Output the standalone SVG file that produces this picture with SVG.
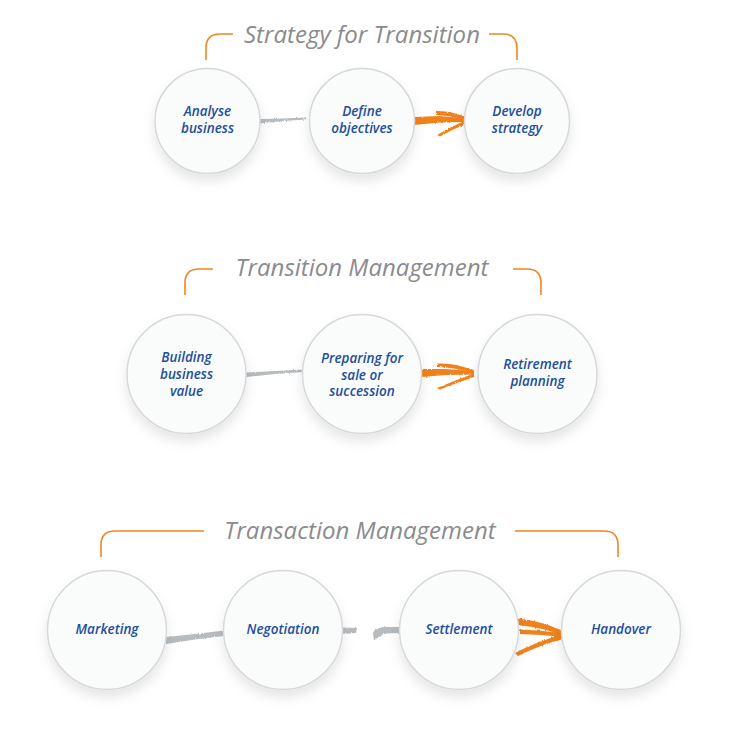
<svg xmlns="http://www.w3.org/2000/svg" width="736" height="733" viewBox="0 0 736 733">
  <defs>
    <filter id="shadow" x="-30%" y="-30%" width="160%" height="170%">
      <feDropShadow dx="0" dy="7" stdDeviation="6" flood-color="#000" flood-opacity="0.10"/>
    </filter>
    <filter id="rough" x="-10%" y="-50%" width="120%" height="200%">
      <feTurbulence type="fractalNoise" baseFrequency="0.9 0.25" numOctaves="2" seed="3" result="n"/>
      <feDisplacementMap in="SourceGraphic" in2="n" scale="2.5" xChannelSelector="R" yChannelSelector="G"/>
    </filter>
    <style>
      .node circle { fill: #fafbfb; stroke: #d6d8d9; stroke-width: 1.5; filter: url(#shadow); }
      .label { font-family: "Open Sans", "Noto Sans", sans-serif; font-style: italic; font-weight: 600; font-size: 13.5px; fill: #1d4f9c; text-anchor: middle; }
      .title { font-family: "Open Sans", "Noto Sans", sans-serif; font-style: italic; font-weight: 400; font-size: 24px; fill: #8a8b8d; text-anchor: middle; }
      .bracket { fill: none; stroke: #f0861f; stroke-width: 1.6; }
      .gray { fill: #b6bbbf; filter: url(#rough); }
      .orange { fill: #f0821e; filter: url(#rough); }
    </style>
  </defs>
  <rect width="736" height="733" fill="#ffffff"/>

  <!-- Section titles and brackets -->
  <g id="section1">
    <text class="title" x="362" y="43">Strategy for Transition</text>
    <path class="bracket" d="M206,60 V48 Q206,34 220,34 H233"/>
    <path class="bracket" d="M489,34 H503 Q517,34 517,48 V60"/>
  </g>
  <g id="section2">
    <text class="title" x="362" y="276">Transition Management</text>
    <path class="bracket" d="M185,295 V283 Q185,269 199,269 H213"/>
    <path class="bracket" d="M513,269 H527 Q541,269 541,283 V295"/>
  </g>
  <g id="section3">
    <text class="title" x="360" y="539">Transaction Management</text>
    <path class="bracket" d="M101,557 V545 Q101,531 115,531 H204"/>
    <path class="bracket" d="M515,531 H604 Q618,531 618,545 V557"/>
  </g>

  <!-- Connectors -->
  <g id="connectors">
    <path class="gray" d="M259,119 L283,118.5 L306,117.5 L306,119.5 L283,121 L259,123.5 Z"/>
    <g id="arrow1">
      <path class="orange" d="M414,117 L440,116 L466,118.5 L466,122 L440,122.5 L414,125 Z"/>
      <path class="orange" d="M436,111 Q452,110.5 466,117.5 L465,120 Q450,115.5 436,115 Z"/>
      <path class="orange" d="M437,135 Q452,126 466,120.5 L466,124 Q452,129.5 440,136.5 Z"/>
    </g>
    <path class="gray" d="M246,372.5 L275,371 L303,369.5 L303,372 L275,374 L246,377 Z"/>
    <g id="arrow2">
      <path class="orange" d="M421,369 L446,369 L474,371 L474,374.5 L446,375 L421,377 Z"/>
      <path class="orange" d="M437,363.5 Q455,362.5 474,370.5 L473,373 Q455,367.5 437,367 Z"/>
      <path class="orange" d="M437,388 Q456,380 474,373.5 L474,377 Q456,383 440,389.5 Z"/>
    </g>
    <path class="gray" d="M166,637 L195,634 L224,630.5 L224,636 L195,639.5 L166,644 Z"/>
    <path class="gray" d="M342,627.5 L357,628 L356,633 L342,634 Z"/>
    <path class="gray" d="M373,633 Q375,627 386,627 L401,627 L401,633 L386,633.5 Q378,636 374,641 Z"/>
    <g id="arrow3">
      <path class="orange" d="M518,618.5 Q542,621 563,631 L563,635.5 Q540,627 518,625 Z"/>
      <path class="orange" d="M520,629.5 Q542,630 563,633.5 L563,637 Q542,634.5 520,634 Z"/>
      <path class="orange" d="M515,653 Q540,640 563,634.5 L563,639 Q540,645 518,656 Z"/>
    </g>
  </g>

  <!-- Nodes -->
  <g id="analyse" class="node">
    <circle cx="207.5" cy="121" r="52.5"/>
    <text class="label" x="207.5" y="116">Analyse</text>
    <text class="label" x="207.5" y="133">business</text>
  </g>
  <g id="define" class="node">
    <circle cx="362" cy="121" r="52.5"/>
    <text class="label" x="362" y="116">Define</text>
    <text class="label" x="362" y="133">objectives</text>
  </g>
  <g id="develop" class="node">
    <circle cx="517" cy="121" r="52.5"/>
    <text class="label" x="517" y="116">Develop</text>
    <text class="label" x="517" y="133">strategy</text>
  </g>

  <g id="building" class="node">
    <circle cx="186.5" cy="374" r="59.5"/>
    <text class="label" x="186.5" y="362">Building</text>
    <text class="label" x="186.5" y="379">business</text>
    <text class="label" x="186.5" y="395.5">value</text>
  </g>
  <g id="preparing" class="node">
    <circle cx="362" cy="374" r="59.5"/>
    <text class="label" x="362" y="363">Preparing for</text>
    <text class="label" x="362" y="379.5">sale or</text>
    <text class="label" x="362" y="396">succession</text>
  </g>
  <g id="retirement" class="node">
    <circle cx="537.5" cy="374" r="59.5"/>
    <text class="label" x="537.5" y="369">Retirement</text>
    <text class="label" x="537.5" y="386">planning</text>
  </g>

  <g id="marketing" class="node">
    <circle cx="107" cy="630" r="59.5"/>
    <text class="label" x="107" y="634">Marketing</text>
  </g>
  <g id="negotiation" class="node">
    <circle cx="283" cy="630" r="59.5"/>
    <text class="label" x="283" y="634">Negotiation</text>
  </g>
  <g id="settlement" class="node">
    <circle cx="459" cy="630" r="59.5"/>
    <text class="label" x="459" y="634">Settlement</text>
  </g>
  <g id="handover" class="node">
    <circle cx="621" cy="630" r="59.5"/>
    <text class="label" x="621" y="634">Handover</text>
  </g>
</svg>
